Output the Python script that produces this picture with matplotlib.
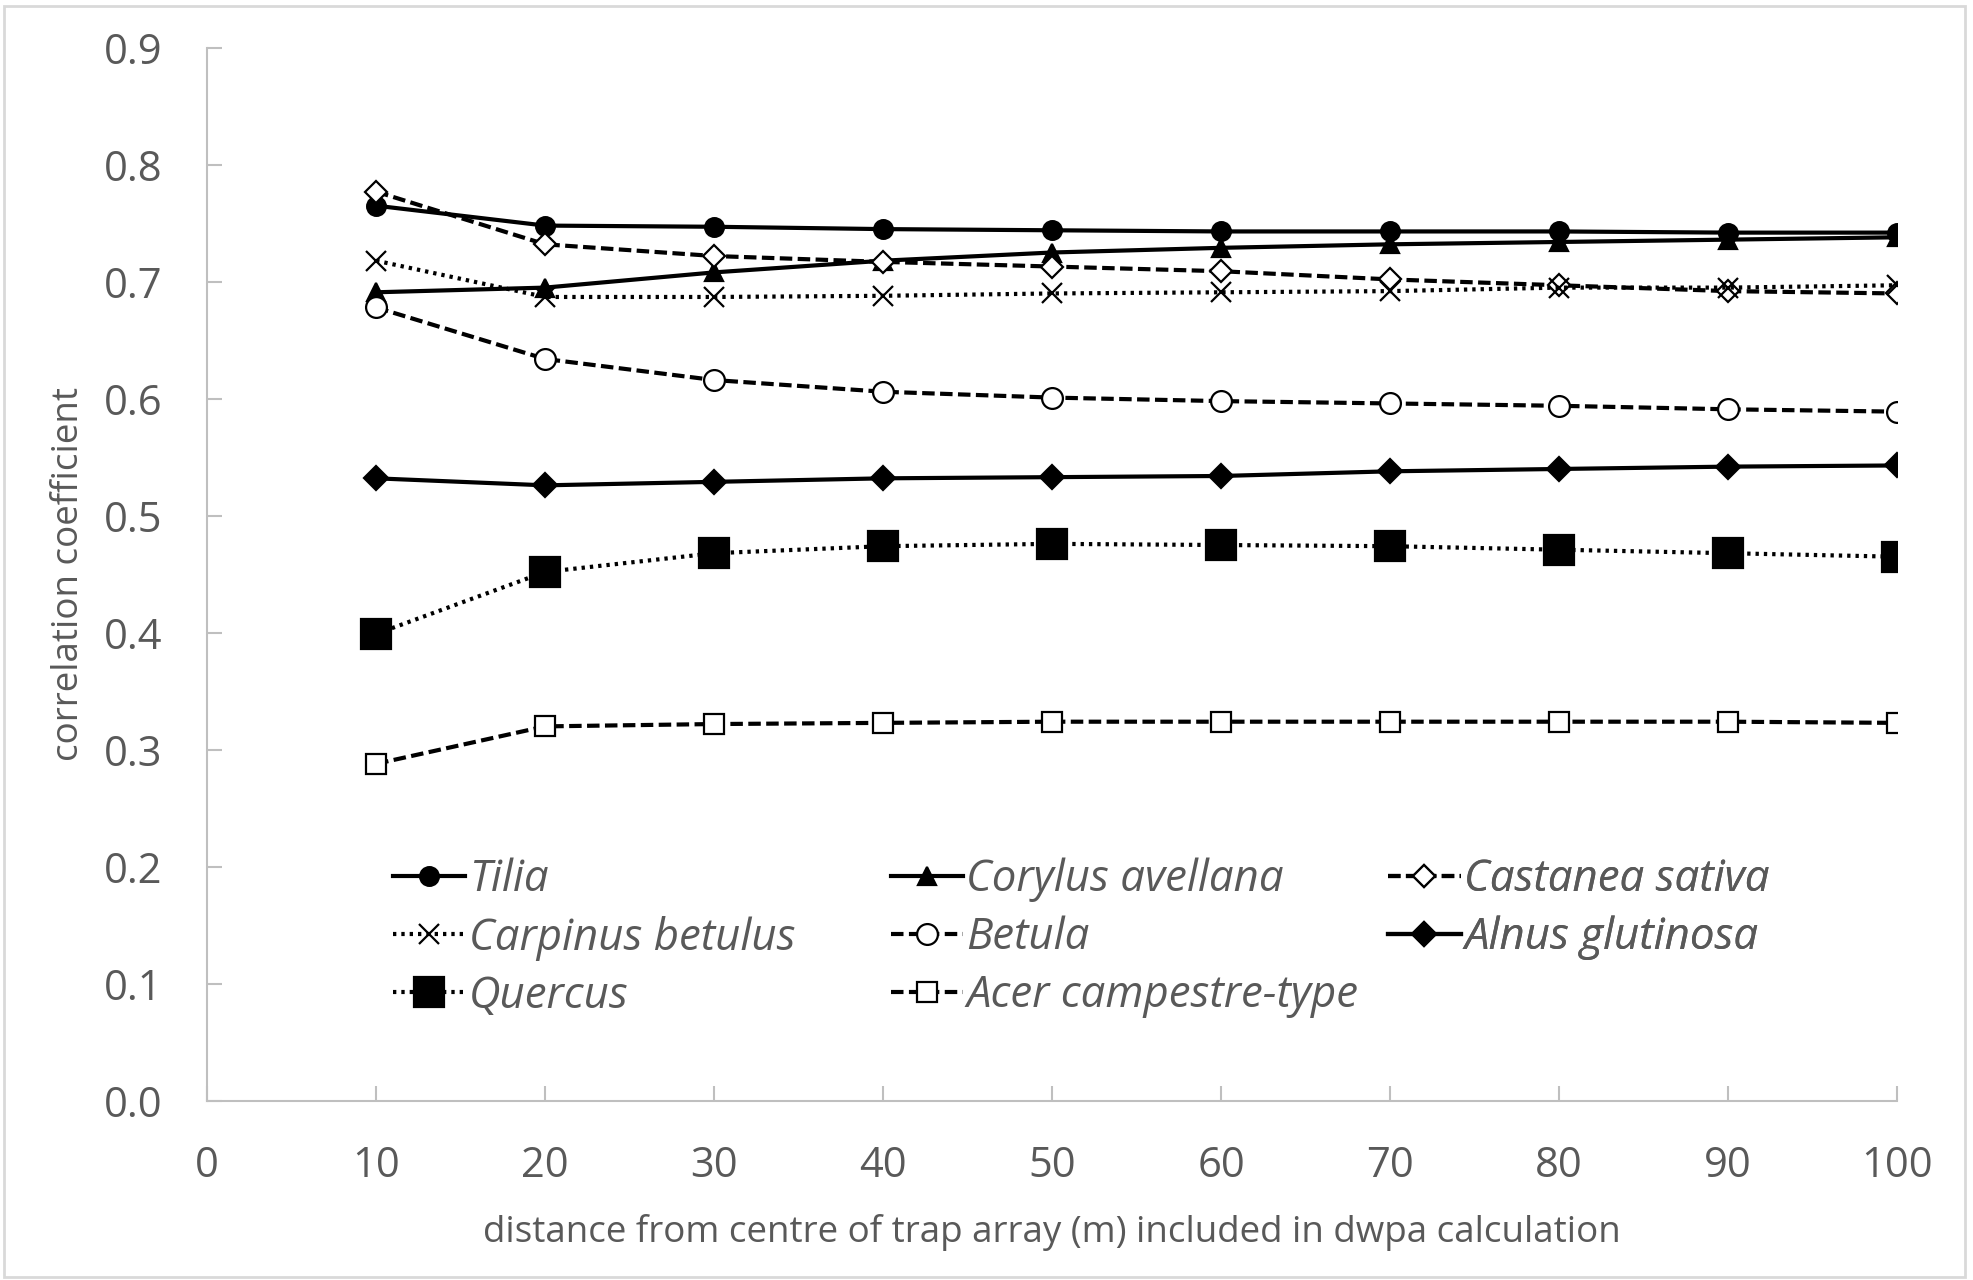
import matplotlib.pyplot as plt
from matplotlib.patches import Rectangle

plt.rcParams['font.family'] = ['Open Sans', 'DejaVu Sans']

distance = [10, 20, 30, 40, 50, 60, 70, 80, 90, 100]

tilia = [0.765, 0.748, 0.747, 0.745, 0.744, 0.743, 0.743, 0.743, 0.742, 0.742]
corylus = [0.691, 0.695, 0.708, 0.718, 0.725, 0.729, 0.732, 0.734, 0.736, 0.738]
castanea = [0.777, 0.732, 0.722, 0.717, 0.713, 0.709, 0.702, 0.697, 0.692, 0.690]
carpinus = [0.718, 0.687, 0.687, 0.688, 0.690, 0.691, 0.692, 0.695, 0.695, 0.697]
betula = [0.678, 0.634, 0.616, 0.606, 0.601, 0.598, 0.596, 0.594, 0.591, 0.589]
alnus = [0.532, 0.526, 0.529, 0.532, 0.533, 0.534, 0.538, 0.540, 0.542, 0.543]
quercus = [0.399, 0.452, 0.468, 0.474, 0.476, 0.475, 0.474, 0.471, 0.468, 0.465]
acer = [0.288, 0.320, 0.322, 0.323, 0.324, 0.324, 0.324, 0.324, 0.324, 0.323]

names = ['Tilia', 'Corylus avellana', 'Castanea sativa',
         'Carpinus betulus', 'Betula', 'Alnus glutinosa',
         'Quercus', 'Acer campestre-type']

grey = '#595959'
axis_grey = '#BFBFBF'

fig = plt.figure(figsize=(19.73, 12.8), dpi=100)
ax = fig.add_axes([0.105, 0.140, 0.8565, 0.8227])

dash = (0, (3, 1.3))
dot = (0, (0.8, 1.2))

# (values, marker, linestyle, fill, markersize)
series = [
    (tilia, 'o', '-', 'black', 13.5),
    (corylus, '^', '-', 'black', 13.5),
    (castanea, 'D', dash, 'white', 11),
    (carpinus, 'x', dot, 'black', 15),
    (betula, 'o', dash, 'white', 15),
    (alnus, 'D', '-', 'black', 12),
    (quercus, 's', dot, 'black', 21),
    (acer, 's', dash, 'white', 15),
]

handles = []
for (vals, mk, ls, fc, ms), name in zip(series, names):
    line, = ax.plot(distance, vals, color='black', linestyle=ls, linewidth=3,
                    marker=mk, markersize=ms, markerfacecolor=fc,
                    markeredgecolor='black', markeredgewidth=1.6, label=name)
    handles.append(line)

ax.set_xlim(0, 100)
ax.set_ylim(0, 0.9)
ax.set_xticks(range(0, 101, 10))
ax.set_yticks([i / 10 for i in range(10)])
ax.set_yticklabels([f'{i / 10:.1f}' for i in range(10)])

for side in ['top', 'right']:
    ax.spines[side].set_visible(False)
for side in ['left', 'bottom']:
    ax.spines[side].set_color(axis_grey)
    ax.spines[side].set_linewidth(1.5)

ax.tick_params(direction='in', length=11, width=1.5, color=axis_grey,
               labelsize=30, labelcolor=grey)
ax.tick_params(axis='x', pad=32)
ax.tick_params(axis='y', pad=32)

ax.set_xlabel('distance from centre of trap array (m) included in dwpa calculation',
              fontsize=26.5, color=grey, labelpad=19)
ax.set_ylabel('correlation coefficient', fontsize=26.5, color=grey, labelpad=12)

# legend laid out row by row in three equal-width columns
col_x = [0.110, 0.4045, 0.699]
for c, x0 in enumerate(col_x):
    hs = handles[c::3]
    leg = ax.legend(handles=hs, labels=[h.get_label() for h in hs],
                    loc='upper left', bbox_to_anchor=(x0, 0.231),
                    borderaxespad=0, borderpad=0, frameon=False,
                    handlelength=1.65, handletextpad=0.08, labelspacing=0.31,
                    prop={'style': 'italic', 'size': 31.5})
    for txt in leg.get_texts():
        txt.set_color(grey)
    ax.add_artist(leg)

fig.patches.append(Rectangle((0.002, 0.002), 0.994, 0.993, transform=fig.transFigure,
                             fill=False, edgecolor='#D9D9D9', linewidth=2))

fig.savefig('out.png', dpi=100)
